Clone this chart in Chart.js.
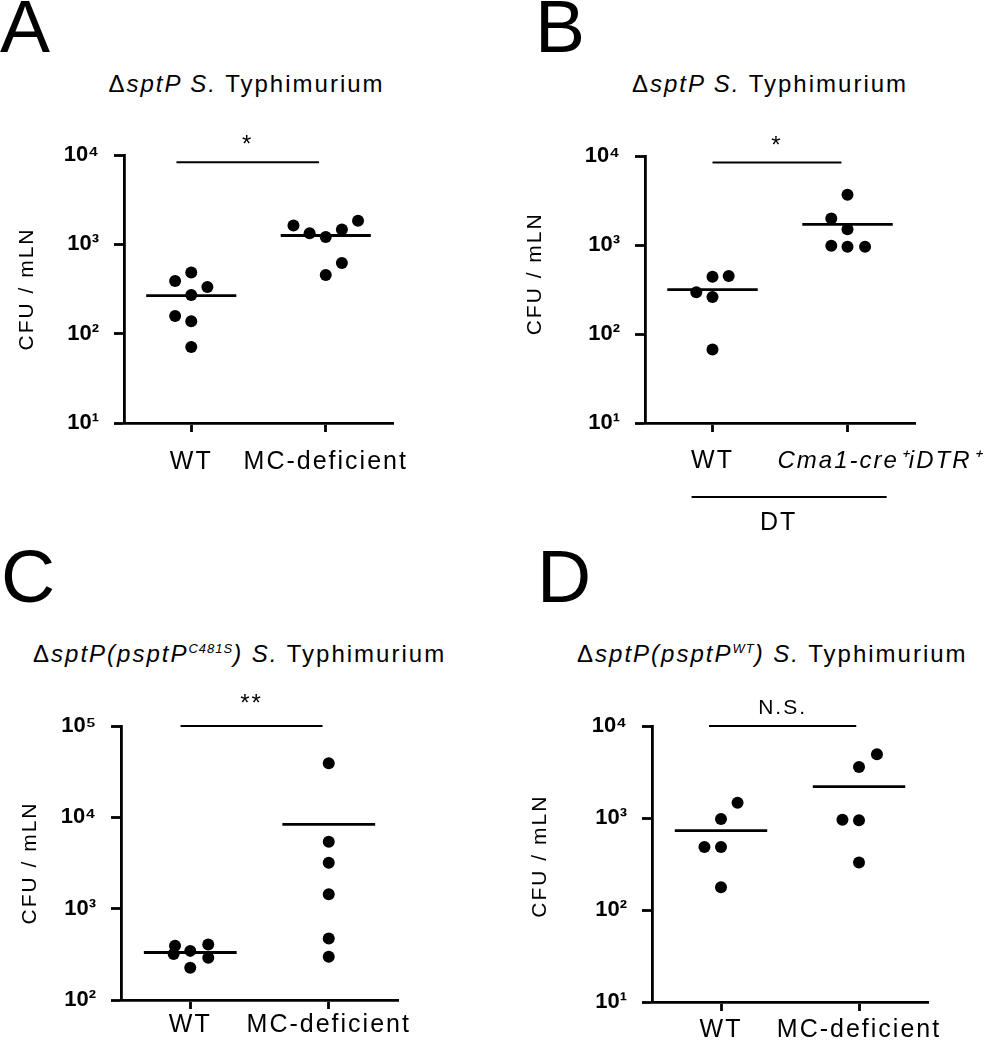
<!DOCTYPE html>
<html><head><meta charset="utf-8">
<script src="https://cdn.jsdelivr.net/npm/chart.js@4/dist/chart.umd.min.js"></script>
<style>
html,body{margin:0;padding:0;background:#fff;}
#root{position:relative;width:993px;height:1050px;overflow:hidden;font-family:"Liberation Sans",Arial,sans-serif;color:#000;background:#fff;}
.letter{position:absolute;font-size:75px;line-height:75px;}
.title{position:absolute;font-size:24px;line-height:24px;letter-spacing:2px;white-space:nowrap;}
.title sup{font-size:13px;letter-spacing:1px;vertical-align:9px;line-height:0;}
canvas{position:absolute;}
</style></head>
<body><div id="root">
<div class="letter" style="left:0;top:-11px">A</div>
<div class="letter" style="left:535px;top:-11px">B</div>
<div class="letter" style="left:1px;top:539px">C</div>
<div class="letter" style="left:537px;top:539px">D</div>
<div class="title" style="left:0;width:493px;top:72px;text-align:center">Δ<i>sptP S.</i> Typhimurium</div>
<div class="title" style="left:547px;width:446px;top:72px;text-align:center">Δ<i>sptP S.</i> Typhimurium</div>
<div class="title" style="left:33px;top:642px">Δ<i>sptP(psptP<sup>C481S</sup>) S.</i> Typhimurium</div>
<div class="title" style="left:577px;top:642px">Δ<i>sptP(psptP<sup>WT</sup>) S.</i> Typhimurium</div>
<canvas id="cA" width="496" height="390" style="left:0;top:100px"></canvas>
<canvas id="cB" width="497" height="440" style="left:496px;top:100px"></canvas>
<canvas id="cC" width="496" height="360" style="left:0;top:690px"></canvas>
<canvas id="cD" width="497" height="360" style="left:496px;top:690px"></canvas>
</div>
<script>
// ---------- data ----------
const categoriesA = ['WT', 'MC-deficient'];
const wtA = [388, 483, 332, 271, 158, 138, 71];
const wtAJitter = [-0.12, 0, 0.12, 0, -0.12, 0, 0];
const mcA = [1620, 1334, 1205, 1462, 1841, 618, 455];
const mcAJitter = [-0.24, -0.12, 0, 0.12, 0.24, 0.12, 0];
const medianA = [267, 1256];

const categoriesB = ['WT', 'Cma1-cre\u207AiDTR\u207A'];
const groupLabelB = 'DT';
const wtB = [440, 449, 295, 261, 67];
const wtBJitter = [0, 0.12, -0.12, 0, 0];
const cmaB = [3670, 1990, 1503, 980, 958, 958];
const cmaBJitter = [0, -0.12, 0, -0.12, 0, 0.13];
const medianB = [316, 1706];

const categoriesC = ['WT', 'MC-deficient'];
const wtC = [392, 404, 345, 318, 290, 225];
const wtCJitter = [-0.11, 0.13, 0, -0.12, 0.13, 0];
const mcC = [39000, 5400, 3180, 1435, 471, 297];
const mcCJitter = [0, 0, 0, 0, 0, 0];
const medianC = [331, 8380];

const categoriesD = ['WT', 'MC-deficient'];
const wtD = [1468, 975, 483, 483, 177];
const wtDJitter = [0.12, 0, -0.12, 0, 0];
const mcD = [4920, 3580, 959, 944, 328];
const mcDJitter = [0.13, 0, -0.12, 0, 0];
const medianD = [728, 2190];

const yTicksABD = [10, 100, 1000, 10000];
const yTicksC = [100, 1000, 10000, 100000];
const yTitle = 'CFU / mLN';

const sigA = {from: -0.11, to: 0.95, at: 8280, text: '*'};
const sigB = {from: 0, to: 0.955, at: 8430, text: '*'};
const sigC = {from: -0.07, to: 0.955, at: 100000, text: '**'};
const sigD = {from: -0.087, to: 0.98, at: 10000, text: 'N.S.'};

// ---------- drawing ----------
const FAM = '"Liberation Sans", Arial, sans-serif';
const HW = 0.335;
const SUP = {0:'\u2070',1:'\u00B9',2:'\u00B2',3:'\u00B3',4:'\u2074',5:'\u2075',6:'\u2076'};

const spacingPlugin = {
  id: 'spacing',
  beforeDraw(c) { c.ctx.letterSpacing = '2px'; },
  afterLayout(c) {
    const y = c.scales.y;
    if (y && !y._wrapped) {
      const orig = y.drawLabels.bind(y);
      y.drawLabels = (ca) => { const ctx = c.ctx; const old = ctx.letterSpacing; ctx.letterSpacing = '0px'; orig(ca); ctx.letterSpacing = old; };
      y._wrapped = true;
    }
  }
};

const sigPlugin = {
  id: 'sig',
  afterDatasetsDraw(c, args, o) {
    const x = c.scales.x, y = c.scales.y, ctx = c.ctx;
    ctx.save();
    ctx.font = o.size + 'px ' + FAM;
    ctx.fillStyle = '#000';
    ctx.textAlign = 'center';
    ctx.textBaseline = 'alphabetic';
    ctx.fillText(o.text, x.getPixelForValue((o.from + o.to) / 2), y.getPixelForValue(o.at) - o.gap);
    ctx.restore();
  }
};

const bLabelsPlugin = {
  id: 'bLabels',
  afterDraw(c, args, o) {
    if (!o || !o.on) return;
    const x = c.scales.x, ctx = c.ctx, base = x.top;
    ctx.save();
    ctx.fillStyle = '#000';
    ctx.strokeStyle = '#000';
    ctx.textBaseline = 'middle';
    ctx.font = '25px ' + FAM;
    ctx.textAlign = 'center';
    ctx.fillText(categoriesB[0], x.getPixelForValue(0), base + 38);
    ctx.font = 'italic 24px ' + FAM;
    ctx.textAlign = 'left';
    ctx.fillText(categoriesB[1], x.getPixelForValue(1) - 70, base + 38);
    ctx.lineWidth = 2;
    ctx.beginPath();
    ctx.moveTo(x.getPixelForValue(-0.155), base + 74);
    ctx.lineTo(x.getPixelForValue(1.29), base + 74);
    ctx.stroke();
    ctx.font = '25px ' + FAM;
    ctx.textAlign = 'center';
    ctx.fillText(groupLabelB, x.getPixelForValue(0.49), base + 100);
    ctx.restore();
  }
};

function points(vals, jit, c) { return vals.map((v, i) => ({x: c + jit[i], y: v})); }

function makeChart(id, p) {
  const dot = {type: 'scatter', pointRadius: 6, pointHoverRadius: 6, pointBackgroundColor: '#000', pointBorderWidth: 0, showLine: false, clip: false};
  const seg = {type: 'line', borderColor: '#000', pointRadius: 0, clip: false, fill: false};
  const datasets = [
    Object.assign({data: points(p.g1, p.j1, 0)}, dot),
    Object.assign({data: points(p.g2, p.j2, 1)}, dot),
    Object.assign({data: [{x: -HW, y: p.med[0]}, {x: HW, y: p.med[0]}], borderWidth: 2.8}, seg),
    Object.assign({data: [{x: 1 - HW, y: p.med[1]}, {x: 1 + HW, y: p.med[1]}], borderWidth: 2.8}, seg),
    Object.assign({data: [{x: p.sig.from, y: p.sig.at}, {x: p.sig.to, y: p.sig.at}], borderWidth: 2}, seg)
  ];
  return new Chart(document.getElementById(id), {
    type: 'scatter',
    data: {datasets},
    options: {
      animation: false, responsive: false, devicePixelRatio: 1, events: [],
      layout: {padding: {top: p.padTop, right: p.padRight, left: 0, bottom: 0}},
      plugins: {
        legend: {display: false}, tooltip: {enabled: false},
        sig: Object.assign({size: p.sigSize, gap: p.sigGap}, p.sig),
        bLabels: {on: !!p.customX}
      },
      scales: {
        x: {
          type: 'linear', min: -0.5, max: 1.5,
          afterBuildTicks: s => { s.ticks = [{value: 0}, {value: 1}]; },
          afterFit: s => { s.height = p.xH; },
          grid: {drawOnChartArea: false, drawTicks: true, tickLength: 9, tickWidth: 2.8, tickColor: '#000'},
          border: {display: true, color: '#000', width: 2.8},
          ticks: {
            callback: (v, i) => p.customX ? '' : p.cats[i],
            font: {family: FAM, size: 25}, color: '#000', padding: p.xPad,
            maxRotation: 0, minRotation: 0, autoSkip: false
          }
        },
        y: {
          type: 'logarithmic', min: p.min, max: p.max,
          afterBuildTicks: s => { s.ticks = p.ticks.map(v => ({value: v})); },
          afterFit: s => { s.width = p.yW; },
          grid: {drawOnChartArea: false, drawTicks: true, tickLength: 10, tickWidth: 2.8, tickColor: '#000'},
          border: {display: true, color: '#000', width: 2.8},
          ticks: {
            callback: v => '10' + SUP[Math.round(Math.log10(v))],
            font: {family: FAM, size: 22, weight: 'bold'}, color: '#000', padding: 15, autoSkip: false
          },
          title: {display: true, text: p.yTitle, font: {family: FAM, size: 21}, color: '#000', padding: {top: p.yTitlePad, bottom: 0}}
        }
      }
    },
    plugins: [spacingPlugin, sigPlugin, bLabelsPlugin]
  });
}

makeChart('cA', {cats: categoriesA, g1: wtA, j1: wtAJitter, g2: mcA, j2: mcAJitter, med: medianA, sig: sigA,
  padTop: 55, padRight: 103, yW: 124, xH: 67, min: 10, max: 10000, ticks: yTicksABD, xPad: 15, yTitlePad: 15,
  yTitle: yTitle, sigSize: 24, sigGap: 10});
makeChart('cB', {cats: categoriesB, g1: wtB, j1: wtBJitter, g2: cmaB, j2: cmaBJitter, med: medianB, sig: sigB,
  padTop: 56, padRight: 78, yW: 149, xH: 117, min: 10, max: 10000, ticks: yTicksABD, xPad: 15, yTitlePad: 27,
  yTitle: '    ' + yTitle, sigSize: 24, sigGap: 10, customX: true});
makeChart('cC', {cats: categoriesC, g1: wtC, j1: wtCJitter, g2: mcC, j2: mcCJitter, med: medianC, sig: sigC,
  padTop: 36, padRight: 98, yW: 121, xH: 50, min: 100, max: 100000, ticks: yTicksC, xPad: 1, yTitlePad: 18,
  yTitle: yTitle, sigSize: 24, sigGap: 15});
makeChart('cD', {cats: categoriesD, g1: wtD, j1: wtDJitter, g2: mcD, j2: mcDJitter, med: medianD, sig: sigD,
  padTop: 36, padRight: 65, yW: 156, xH: 48, min: 10, max: 10000, ticks: yTicksABD, xPad: 4, yTitlePad: 32,
  yTitle: '  ' + yTitle, sigSize: 21, sigGap: 12});
</script>
</body></html>
